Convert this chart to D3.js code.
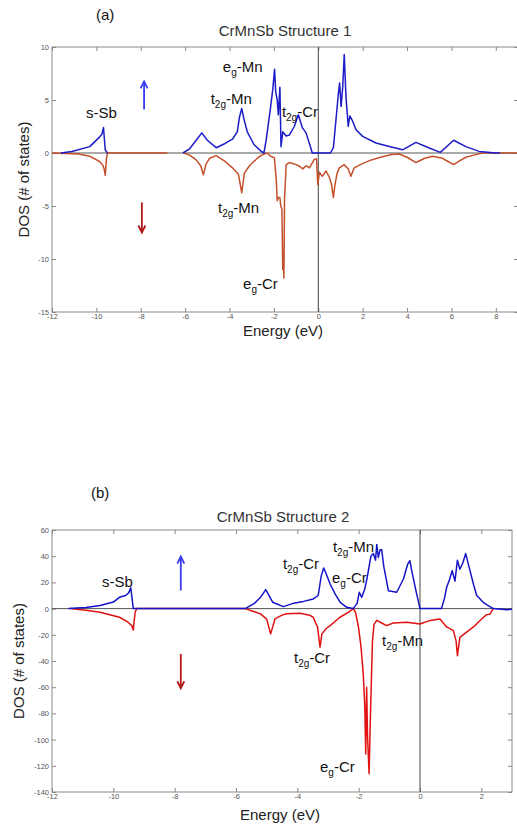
<!DOCTYPE html>
<html>
<head>
<meta charset="utf-8">
<script src="https://cdn.jsdelivr.net/npm/d3@7"></script>
<style>
body { margin: 0; background: #fff; }
svg text { font-family: "Liberation Sans", Arial, sans-serif; }
.tick text { fill: #555; font-size: 7.5px; }
.tick line { stroke: #888; }
</style>
</head>
<body>
<div id="vis"></div>
<script>
var width = 517,
    height = 826;

// ---- panel (a): CrMnSb Structure 1 ----
var xTicksA = [-12, -10, -8, -6, -4, -2, 0, 2, 4, 6, 8];
var yTicksA = [-15, -10, -5, 0, 5, 10];

// spin up, [energy (eV), DOS]; null = gap in the curve
var upA = [[-11.6,0],[-11.1,0.15],[-10.3,0.6],[-9.86,1.5],[-9.75,1.8],[-9.68,2.4],[-9.6,0.3],[-9.5,0],[-8,null],
  [-6.1,0],[-5.8,0.4],[-5.5,1.2],[-5.25,1.9],[-5.0,1.2],[-4.6,0.5],[-4.2,0.9],[-3.87,1.3],[-3.65,2.0],[-3.55,3.4],
  [-3.45,4.2],[-3.35,3.2],[-3.2,2.0],[-2.9,0.8],[-2.6,0.2],[-2.45,0],[-2.35,1.2],[-2.17,4.0],[-2.05,6.0],[-1.97,7.9],
  [-1.92,5.8],[-1.85,5.0],[-1.8,3.6],[-1.73,6.2],[-1.68,0.6],[-1.6,2.0],[-1.45,1.6],[-1.3,1.7],[-1.08,2.5],[-0.9,3.6],
  [-0.72,2.4],[-0.55,1.9],[-0.4,0.9],[-0.27,0],[0.55,0],[0.68,0.5],[0.8,3.2],[0.9,5.5],[0.96,6.6],[1.03,4.4],[1.1,6.2],
  [1.17,9.3],[1.25,5.2],[1.35,2.5],[1.42,3.5],[1.55,3.0],[1.7,2.2],[2.0,1.57],[2.6,0.94],[3.2,0.62],[3.8,0.3],[4.4,1.0],
  [5.0,0.47],[5.5,0.06],[6.1,1.2],[6.65,0.6],[7.25,0.15],[8.0,0],[8.2,0]];

// spin down
var downA = [[-12,0],[-10.8,-0.1],[-10.3,-0.3],[-9.86,-0.8],[-9.72,-1.1],[-9.65,-1.5],[-9.6,-2.1],[-9.55,-0.6],[-9.5,0],
  [-6.8,0],[-6.5,null],[-6.05,0],[-5.8,-0.2],[-5.5,-0.65],[-5.3,-1.2],[-5.18,-2.05],[-5.05,-1.0],[-4.9,-0.5],[-4.6,-0.25],
  [-4.2,-0.8],[-3.87,-1.4],[-3.6,-2.0],[-3.45,-3.75],[-3.33,-1.9],[-3.1,-1.2],[-2.95,-0.9],[-2.7,-0.4],[-2.5,-0.15],
  [-2.3,0],[-2.15,-0.3],[-1.98,-0.45],[-1.9,-2.3],[-1.85,-4.5],[-1.8,-4.2],[-1.73,-4.2],[-1.69,-5.0],[-1.64,-5.3],
  [-1.6,-11.0],[-1.57,-10.5],[-1.55,-11.8],[-1.52,-4.4],[-1.45,-1.1],[-1.3,-0.9],[-1.0,-1.1],[-0.85,-1.25],[-0.7,-1.5],
  [-0.55,-1.2],[-0.4,-1.4],[-0.18,-0.6],[-0.08,-0.55],[-0.02,-3.0],[0.05,-1.8],[0.18,-2.2],[0.35,-1.7],[0.5,-2.3],
  [0.6,-3.0],[0.68,-4.2],[0.75,-3.0],[0.85,-1.9],[0.95,-1.4],[1.17,-1.1],[1.35,-1.5],[1.47,-2.2],[1.62,-1.4],[1.9,-1.1],
  [2.3,-0.72],[2.8,-0.4],[3.3,-0.15],[3.65,-0.1],[4.0,-0.4],[4.4,-0.9],[4.8,-0.5],[5.15,-0.3],[5.6,-0.5],[5.85,-0.8],
  [6.1,-1.1],[6.4,-0.7],[6.65,-0.4],[7.0,-0.2],[7.4,0],[9,0]];

// peak labels: energy, DOS of the text baseline, main text, subscript, rest
var labelsA = [
  [-10.47, 3.3, "s-Sb", "", ""],
  [-4.3, 7.64, "e", "g", "-Mn"],
  [-4.85, 4.62, "t", "2g", "-Mn"],
  [-1.64, 3.4, "t", "2g", "-Cr"],
  [-4.52, -5.7, "t", "2g", "-Mn"],
  [-3.39, -12.8, "e", "g", "-Cr"]
];
// spin arrows: energy, from DOS, to DOS
var arrowsA = [[-7.85, 4.1, 6.75], [-7.95, -4.66, -7.5]];

// ---- panel (b): CrMnSb Structure 2 ----
var xTicksB = [-12, -10, -8, -6, -4, -2, 0, 2];
var yTicksB = [-140, -120, -100, -80, -60, -40, -20, 0, 20, 40, 60];

var upB = [[-11.47,0],[-10.9,0.8],[-10.43,2.3],[-10.0,5],[-9.8,8.6],[-9.6,10],[-9.5,12],[-9.43,15.8],[-9.35,0],
  [-5.7,0],[-5.4,4],[-5.2,8.6],[-5.03,14.5],[-4.9,9],[-4.8,4.8],[-4.46,1.5],[-4.13,4],[-3.8,5.5],[-3.48,7.4],[-3.32,10],
  [-3.22,25],[-3.14,31],[-3.05,26],[-2.93,18.8],[-2.77,11.2],[-2.6,4.8],[-2.39,1],[-2.18,0],[-2.05,4],[-1.98,12.5],
  [-1.9,8.6],[-1.8,15],[-1.72,24],[-1.6,40],[-1.52,42],[-1.45,37],[-1.41,49],[-1.36,39],[-1.3,45],[-1.25,45],
  [-1.18,32],[-1.03,13.7],[-0.76,12.5],[-0.54,22.6],[-0.4,34],[-0.33,36.6],[-0.27,29],[-0.11,11.2],[0,0],[0.7,0],
  [0.8,8],[0.87,16.3],[0.96,22],[1.05,29],[1.14,21],[1.22,37],[1.3,30],[1.4,35],[1.49,42],[1.63,29],[1.75,18],
  [1.85,10],[2.06,4.8],[2.17,3],[2.39,0],[2.83,-0.8],[3,-0.5]];

var downB = [[-11.4,0],[-10.9,-1.2],[-10.43,-2.8],[-9.8,-6.6],[-9.52,-10.4],[-9.4,-13],[-9.35,-16.3],[-9.29,-3],
  [-9.24,0],[-5.7,0],[-5.45,-2],[-5.2,-4],[-5.0,-8],[-4.87,-19.3],[-4.73,-7.9],[-4.5,-5],[-4.35,-4],[-3.91,-3.6],
  [-3.6,-5],[-3.48,-6.6],[-3.39,-11.7],[-3.34,-14],[-3.26,-29.5],[-3.2,-19.3],[-3.05,-15],[-2.93,-13],[-2.61,-6.6],
  [-2.34,-2.8],[-2.17,0],[-2.1,-3],[-2.0,-15],[-1.92,-30],[-1.85,-50],[-1.8,-75],[-1.77,-111],[-1.74,-60],[-1.71,-98],
  [-1.66,-126],[-1.62,-85],[-1.58,-50],[-1.55,-25],[-1.5,-12],[-1.41,-9],[-1.25,-11],[-1.09,-13],[-0.87,-11],
  [-0.43,-10.4],[0,-11.7],[0.33,-9],[0.65,-7.9],[0.87,-14],[1.09,-16.8],[1.18,-25],[1.22,-36],[1.3,-22],[1.52,-18],
  [1.74,-14],[2.01,-7.9],[2.17,-4.6],[2.28,-4.3],[2.39,0]];

var labelsB = [
  [-10.37, 16.5, "s-Sb", "", ""],
  [-4.47, 30.2, "t", "2g", "-Cr"],
  [-2.87, 19.9, "e", "g", "-Cr"],
  [-2.84, 43.2, "t", "2g", "-Mn"],
  [-1.24, -28.9, "t", "2g", "-Mn"],
  [-4.11, -41.9, "t", "2g", "-Cr"],
  [-3.26, -124.4, "e", "g", "-Cr"]
];
var arrowsB = [[-7.8, 13.8, 39.7], [-7.8, -34.6, -60.8]];

var svg = d3.select("#vis").append("svg")
    .attr("width", width)
    .attr("height", height);

drawPanel({
  id: "a", tag: "(a)", title: "CrMnSb Structure 1",
  left: 52, right: 518, top: 47, bottom: 312,
  xDomain: [-12, 9], yDomain: [-15, 10],
  xTicks: xTicksA, yTicks: yTicksA,
  up: upA, down: downA, upColor: "#1c1cc8", downColor: "#c4502a",
  labels: labelsA, arrows: arrowsA,
  tagY: 20, titleY: 36, xLabelY: 336, yLabelX: 29
});

drawPanel({
  id: "b", tag: "(b)", title: "CrMnSb Structure 2",
  left: 52, right: 512, top: 530, bottom: 792,
  xDomain: [-12, 3], yDomain: [-140, 60],
  xTicks: xTicksB, yTicks: yTicksB,
  up: upB, down: downB, upColor: "#1414c8", downColor: "#e01212",
  labels: labelsB, arrows: arrowsB,
  tagY: 498, titleY: 522, xLabelY: 820, yLabelX: 24
});

function drawPanel(p) {
  var x = d3.scaleLinear().domain(p.xDomain).range([p.left, p.right]);
  var y = d3.scaleLinear().domain(p.yDomain).range([p.bottom, p.top]);
  var g = svg.append("g");

  g.append("clipPath").attr("id", "clip-" + p.id)
    .append("rect")
    .attr("x", p.left).attr("y", p.top)
    .attr("width", p.right - p.left).attr("height", p.bottom - p.top);

  // axes with inward ticks on all four sides
  g.append("g").attr("transform", "translate(0," + p.bottom + ")")
    .call(d3.axisBottom(x).tickValues(p.xTicks).tickSizeInner(-4).tickSizeOuter(0).tickPadding(2)
      .tickFormat(function(d) { return String(d); }));
  g.append("g").attr("transform", "translate(0," + p.top + ")")
    .call(d3.axisTop(x).tickValues(p.xTicks).tickSizeInner(-4).tickSizeOuter(0).tickFormat(""));
  g.append("g").attr("transform", "translate(" + p.left + ",0)")
    .call(d3.axisLeft(y).tickValues(p.yTicks).tickSizeInner(-4).tickSizeOuter(0).tickPadding(3)
      .tickFormat(function(d) { return String(d); }));
  g.append("g").attr("transform", "translate(" + p.right + ",0)")
    .call(d3.axisRight(y).tickValues(p.yTicks).tickSizeInner(-4).tickSizeOuter(0).tickFormat(""));
  g.selectAll(".domain").remove();

  g.append("rect")
    .attr("x", p.left).attr("y", p.top)
    .attr("width", p.right - p.left).attr("height", p.bottom - p.top)
    .attr("fill", "none").attr("stroke", "#8a8a8a");

  // zero line and Fermi level
  g.append("line")
    .attr("x1", x(p.xDomain[0])).attr("x2", x(p.xDomain[1]))
    .attr("y1", y(0)).attr("y2", y(0))
    .attr("stroke", "#555");
  g.append("line")
    .attr("x1", x(0)).attr("x2", x(0))
    .attr("y1", y(p.yDomain[0])).attr("y2", y(p.yDomain[1]))
    .attr("stroke", "#444");

  var line = d3.line()
    .defined(function(d) { return d[1] !== null; })
    .x(function(d) { return x(d[0]); })
    .y(function(d) { return y(d[1]); });

  var curves = g.append("g").attr("clip-path", "url(#clip-" + p.id + ")");
  curves.append("path").datum(p.down)
    .attr("d", line).attr("fill", "none")
    .attr("stroke", p.downColor).attr("stroke-width", 1.5).attr("stroke-linejoin", "round");
  curves.append("path").datum(p.up)
    .attr("d", line).attr("fill", "none")
    .attr("stroke", p.upColor).attr("stroke-width", 1.5).attr("stroke-linejoin", "round");

  // peak labels with subscripts
  p.labels.forEach(function(l) {
    var t = g.append("text")
      .attr("x", x(l[0])).attr("y", y(l[1]))
      .attr("font-size", 15).attr("fill", "#111");
    t.append("tspan").text(l[2]);
    if (l[3]) {
      t.append("tspan").attr("font-size", 10).attr("dy", 4).text(l[3]);
      t.append("tspan").attr("dy", -4).text(l[4]);
    }
  });

  // spin arrows
  p.arrows.forEach(function(a, i) {
    var color = i == 0 ? "#3a3af0" : "#b41818";
    var x0 = x(a[0]), y0 = y(a[1]), y1 = y(a[2]);
    var dir = y1 < y0 ? 1 : -1;
    g.append("line")
      .attr("x1", x0).attr("x2", x0).attr("y1", y0).attr("y2", y1)
      .attr("stroke", color).attr("stroke-width", 1.8);
    g.append("path")
      .attr("d", "M" + (x0 - 3.5) + "," + (y1 + dir * 7) + "L" + x0 + "," + y1 + "L" + (x0 + 3.5) + "," + (y1 + dir * 7))
      .attr("fill", "none").attr("stroke", color).attr("stroke-width", 1.8);
  });

  // titles and axis labels
  var mid = (p.left + p.right) / 2 + 1;
  svg.append("text").attr("x", mid + (p.id == "a" ? -1 : 0)).attr("y", p.titleY)
    .attr("text-anchor", "middle").attr("font-size", 15).attr("fill", "#333").text(p.title);
  svg.append("text").attr("x", p.id == "a" ? 96 : 91).attr("y", p.tagY)
    .attr("font-size", 15).attr("fill", "#111").text(p.tag);
  svg.append("text").attr("x", p.id == "a" ? 283 : 280).attr("y", p.xLabelY)
    .attr("text-anchor", "middle").attr("font-size", 15).attr("fill", "#222").text("Energy (eV)");
  svg.append("text")
    .attr("transform", "translate(" + p.yLabelX + "," + (p.top + p.bottom) / 2 + ") rotate(-90)")
    .attr("text-anchor", "middle").attr("font-size", 15).attr("fill", "#222").text("DOS (# of states)");
}
</script>
</body>
</html>
